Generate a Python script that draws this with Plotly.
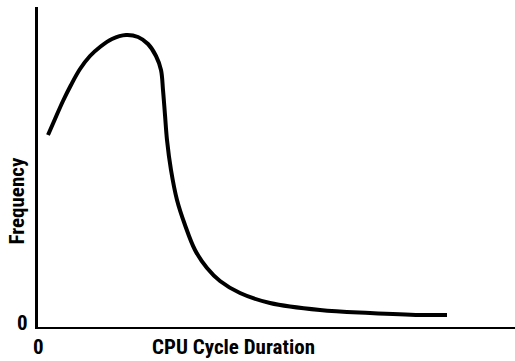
import plotly.graph_objects as go

# Frequency distribution of CPU cycle durations (arbitrary units)
duration = [10, 17, 25, 33, 42, 52, 62, 74, 88, 100, 110, 118, 123, 125, 127, 129,
            133, 139, 147, 157, 169, 182, 202, 232, 282, 332, 382, 409]
frequency = [192, 208, 226, 242, 258, 271, 280, 288, 292, 290, 283, 271, 257, 237,
             212, 187, 157, 127, 102, 77, 59, 46, 34, 24, 17, 14, 12, 12]

x_label = "CPU Cycle Duration"
y_label = "Frequency"
zero_label = "0"

FONT = "Liberation Sans Narrow, Arial Narrow, Roboto Condensed, Roboto, sans-serif"
SIZE = 21

fig = go.Figure()
fig.add_trace(go.Scatter(
    x=duration, y=frequency, mode="lines",
    line=dict(color="black", width=4, shape="spline", smoothing=1.0),
    hoverinfo="skip", showlegend=False,
))

fig.update_layout(
    width=515, height=361,
    margin=dict(l=38, r=0, t=7, b=34),
    paper_bgcolor="white", plot_bgcolor="white",
    xaxis=dict(range=[0, 477], showline=True, linecolor="black", linewidth=2,
               showgrid=False, zeroline=False, showticklabels=False, ticks=""),
    yaxis=dict(range=[0, 320], showline=True, linecolor="black", linewidth=3,
               showgrid=False, zeroline=False, showticklabels=False, ticks=""),
    annotations=[
        dict(text=f"<b>{x_label}</b>", xref="paper", yref="paper", x=0.41, y=-0.064,
             xanchor="center", yanchor="middle", showarrow=False,
             font=dict(family=FONT, size=SIZE, color="black")),
        dict(text=f"<b>{zero_label}</b>", xref="paper", yref="paper", x=0.0, y=-0.064,
             xanchor="center", yanchor="middle", showarrow=False,
             font=dict(family=FONT, size=SIZE, color="black")),
        dict(text=f"<b>{zero_label}</b>", xref="paper", yref="paper", x=-0.0325, y=0.012,
             xanchor="center", yanchor="middle", showarrow=False,
             font=dict(family=FONT, size=SIZE, color="black")),
        dict(text=f"<b>{y_label}</b>", xref="paper", yref="paper", x=-0.045, y=0.394,
             xanchor="center", yanchor="middle", showarrow=False, textangle=-90,
             font=dict(family=FONT, size=SIZE, color="black")),
    ],
)

fig.write_html("out.html")
